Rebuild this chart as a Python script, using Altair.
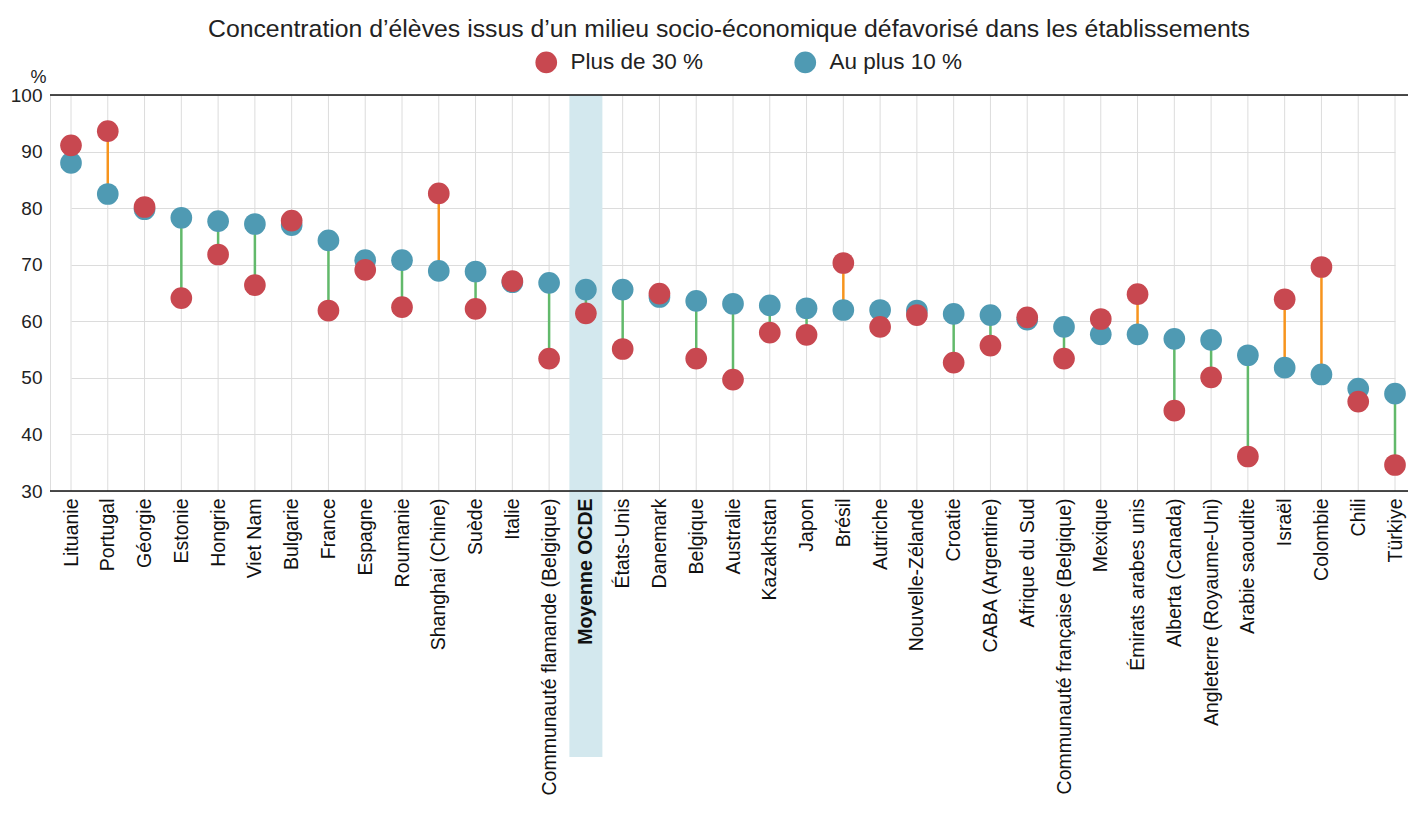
import altair as alt
import pandas as pd

countries = [
    "Lituanie", "Portugal", "Géorgie", "Estonie", "Hongrie", "Viet Nam", "Bulgarie",
    "France", "Espagne", "Roumanie", "Shanghai (Chine)", "Suède", "Italie",
    "Communauté flamande (Belgique)", "Moyenne OCDE", "États-Unis", "Danemark",
    "Belgique", "Australie", "Kazakhstan", "Japon", "Brésil", "Autriche",
    "Nouvelle-Zélande", "Croatie", "CABA (Argentine)", "Afrique du Sud",
    "Communauté française (Belgique)", "Mexique", "Émirats arabes unis",
    "Alberta (Canada)", "Angleterre (Royaume-Uni)", "Arabie saoudite", "Israël",
    "Colombie", "Chili", "Türkiye",
]
red_vals = [
    91.1, 93.6, 80.2, 64.1, 71.8, 66.4, 77.8,
    61.9, 69.1, 62.5, 82.6, 62.2, 67.1,
    53.4, 61.4, 55.1, 64.9,
    53.4, 49.7, 58.0, 57.6, 70.3, 59.0,
    61.1, 52.7, 55.7, 60.7,
    53.4, 60.4, 64.8,
    44.2, 50.1, 36.1, 63.9,
    69.6, 45.8, 34.6,
]
blue_vals = [
    88.0, 82.5, 79.8, 78.3, 77.7, 77.2, 77.0,
    74.3, 70.8, 70.8, 68.9, 68.8, 66.9,
    66.8, 65.6, 65.6, 64.3,
    63.6, 63.1, 62.8, 62.3, 62.0, 62.0,
    61.9, 61.3, 61.1, 60.3,
    59.0, 57.7, 57.7,
    56.9, 56.7, 54.0, 51.8,
    50.6, 48.1, 47.2,
]
series_names = ["Plus de 30 %", "Au plus 10 %"]
series_colors = ["#c84850", "#4f9ab3"]
y_ticks = [30, 40, 50, 60, 70, 80, 90, 100]
highlight = "Moyenne OCDE"
title_text = "Concentration d’élèves issus d’un milieu socio-économique défavorisé dans les établissements"

FONT = "Liberation Sans"

wide = pd.DataFrame({"pays": countries, "rouge": red_vals, "bleu": blue_vals})
wide["sens"] = ["haut" if r >= b else "bas" for r, b in zip(red_vals, blue_vals)]

long = pd.concat([
    pd.DataFrame({"pays": countries, "serie": series_names[1], "valeur": blue_vals}),
    pd.DataFrame({"pays": countries, "serie": series_names[0], "valeur": red_vals}),
], ignore_index=True)

x_scale = alt.Scale(type="point", domain=countries, padding=0, range=[21, 1345])
y_scale = alt.Scale(domain=[30, 100], nice=False)

x_axis = alt.Axis(
    title=None, labelAngle=270, labelAlign="right", labelBaseline="middle",
    labelFontSize=19.5, labelFont=FONT, labelColor="#111", labelPadding=7,
    labelFontWeight={"expr": "datum.value == 'Moyenne OCDE' ? 'bold' : 'normal'"},
    ticks=False, domain=False, grid=False, zindex=2,
    labelLimit=0, labelOverlap=False,
)
y_axis = alt.Axis(
    title="%", titleAngle=0, titleX=-12, titleY=-9, titleAlign="center",
    titleBaseline="bottom", titleFontSize=18, titleFontWeight="normal",
    titleFont=FONT, titleColor="#222",
    values=y_ticks, labelFontSize=19, labelFont=FONT, labelColor="#222",
    labelPadding=8, ticks=False, domain=False, grid=True, gridColor="#dcdcdc",
    gridWidth=1,
)

base_x = alt.X("pays:N", scale=x_scale, axis=x_axis, sort=countries)

vgrid = alt.Chart(pd.DataFrame({"pays": countries})).mark_rule(
    color="#dcdcdc", strokeWidth=1
).encode(x=base_x)

band = alt.Chart(pd.DataFrame({"pays": [highlight]})).mark_bar(
    width=33, color="#d3e8ee"
).encode(
    x=alt.X("pays:N", scale=x_scale, sort=countries),
    y=alt.value(0), y2=alt.value(662),
)

frame = alt.Chart(pd.DataFrame({"v": [30, 100]})).mark_rule(
    color="#111", strokeWidth=1.3
).encode(y=alt.Y("v:Q", scale=y_scale, axis=y_axis))

rules = alt.Chart(wide).mark_rule(strokeWidth=2.5).encode(
    x=base_x,
    y=alt.Y("rouge:Q", scale=y_scale, axis=y_axis),
    y2="bleu:Q",
    color=alt.Color("sens:N", scale=alt.Scale(domain=["haut", "bas"], range=["#f7941d", "#62b96b"]), legend=None),
)

points = alt.Chart(long).mark_circle(size=470, opacity=1).encode(
    x=base_x,
    y=alt.Y("valeur:Q", scale=y_scale, axis=y_axis),
    color=alt.Color(
        "serie:N",
        scale=alt.Scale(domain=series_names, range=series_colors),
        legend=alt.Legend(
            title=None, orient="none", direction="horizontal",
            legendX=485, legendY=-44, symbolType="circle", symbolSize=470,
            symbolStrokeWidth=0, symbolOpacity=1, labelFontSize=22.5,
            labelFont=FONT, labelColor="#222", columnPadding=90, labelOffset=13,
        ),
    ),
)

chart = alt.layer(vgrid, band, rules, points, frame).resolve_scale(
    color="independent"
).properties(
    width=1358, height=396,
    autosize=alt.AutoSizeParams(type="none"),
    padding={"left": 42, "top": 87, "right": 0, "bottom": 316},
    title=alt.TitleParams(
        text=title_text, fontSize=24.8, font=FONT, fontWeight="normal",
        color="#222", anchor="middle", offset=9,
    ),
).configure_view(stroke=None).configure(background="white")

chart.save("out.html", embed_options={"renderer": "svg", "actions": False})
